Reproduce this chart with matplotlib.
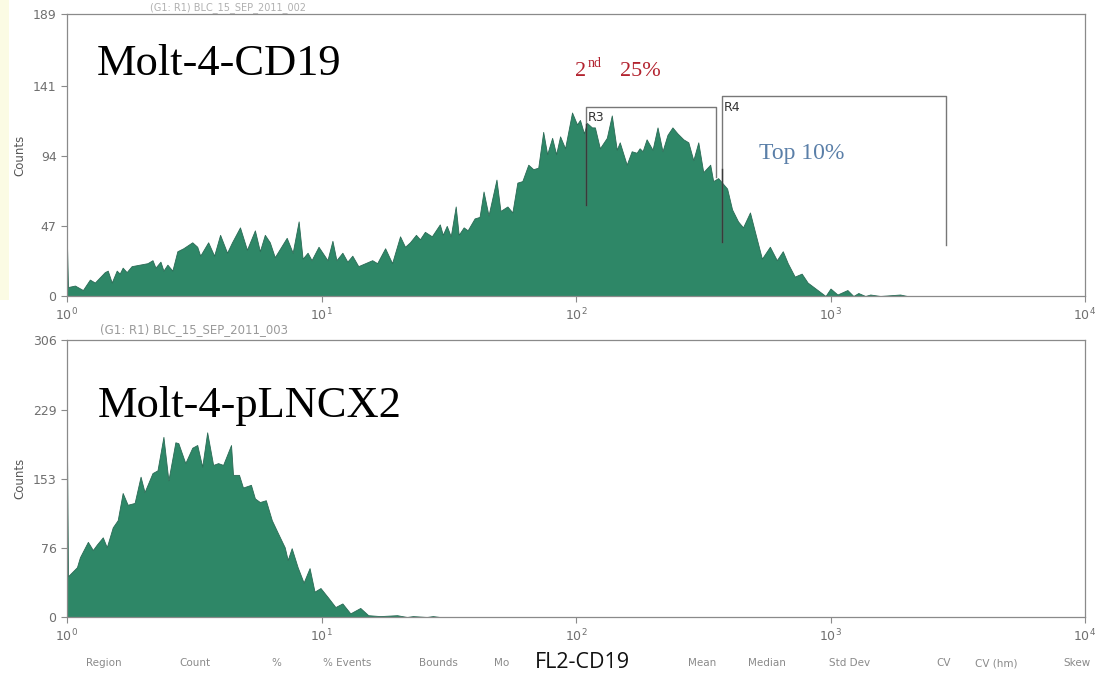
import numpy as np
import matplotlib
matplotlib.use('Agg')
import matplotlib.pyplot as plt
from matplotlib.patches import Rectangle

# FL2 channel (0-1023, 256 channels per decade) and counts
top_ch = [0, 1, 8, 16, 23, 28, 38, 41, 45, 50, 53, 56, 60, 65, 73, 81, 86, 89, 94, 97,
          101, 106, 111, 117, 126, 131, 134, 142, 148, 154, 161, 166, 174, 181, 189, 194,
          199, 204, 209, 221, 227, 233, 237, 242, 246, 253, 262, 267, 271, 277, 282, 287,
          293, 300, 307, 312, 320, 327, 335, 340, 345, 351, 355, 360, 367, 375, 378, 382,
          386, 391, 394, 399, 403, 410, 415, 419, 424, 432, 436, 443, 448, 453, 458, 464,
          469, 474, 479, 483, 488, 492, 496, 501, 508, 513, 516, 520, 523, 528, 531, 536,
          543, 548, 553, 556, 563, 568, 573, 576, 579, 583, 589, 594, 599, 604, 609, 614,
          620, 625, 630, 635, 640, 647, 650, 655, 664, 669, 675, 680, 687, 692, 699, 707,
          714, 720, 725, 732, 739, 745, 755, 763, 768, 775, 785, 791, 796, 803, 808, 818,
          838, 845, 1023]
top_counts = [34, 6, 7, 4, 11, 9, 16, 17, 9, 17, 15, 19, 16, 20, 21, 22, 24, 19, 23, 17,
              21, 17, 30, 32, 36, 33, 27, 36, 27, 41, 29, 36, 46, 31, 44, 30,
              41, 36, 26, 39, 29, 50, 25, 29, 24, 33, 24, 37, 24, 29, 23, 27,
              20, 22, 24, 22, 32, 22, 40, 33, 36, 41, 38, 43, 40, 48, 41, 47,
              40, 60, 41, 46, 44, 52, 53, 70, 54, 78, 57, 60, 56, 76, 77, 88,
              85, 86, 110, 95, 106, 95, 107, 99, 123, 115, 118, 109, 116, 113, 113, 99,
              106, 121, 98, 103, 88, 97, 96, 99, 97, 105, 98, 113, 97, 108, 113, 109,
              105, 103, 91, 103, 83, 88, 77, 79, 72, 58, 50, 46, 56, 43, 25, 33,
              24, 30, 22, 13, 15, 9, 4, 0, 5, 1, 4, 0, 2, 0, 1, 0,
              1, 0, 0]

bot_ch = [0, 1, 10, 13, 21, 26, 30, 36, 40, 46, 51, 56, 61, 68, 74, 78, 86, 91, 97, 102,
          109, 112, 119, 126, 131, 136, 141, 147, 152, 157, 165, 167, 173, 177, 185, 189,
          194, 200, 206, 212, 219, 222, 226, 232, 238, 244, 249, 255, 263, 270, 277, 285,
          295, 303, 315, 332, 342, 348, 362, 368, 375, 1023]
bot_counts = [185, 45, 55, 66, 83, 74, 80, 88, 77, 99, 107, 137, 124, 126, 155, 138, 159, 162, 199, 151,
              193, 192, 170, 187, 190, 166, 204, 168, 170, 168, 190, 157, 157, 143, 146, 131,
              127, 129, 107, 93, 77, 63, 76, 55, 38, 54, 28, 32, 21, 11, 15, 4,
              10, 2, 1, 2, 0, 1, 0, 1, 0, 0]

top_yticks = [0, 47, 94, 141, 189]
bot_yticks = [0, 76, 153, 229, 306]
xticks = [1, 10, 100, 1000, 10000]
xticklabels = ['$10^{0}$', '$10^{1}$', '$10^{2}$', '$10^{3}$', '$10^{4}$']

# gates (channels, counts)
r3_ch = [522, 653]
r3_top, r3_low_left, r3_low_right = 127, 61, 80
r4_ch = [659, 884]
r4_top, r4_low_left, r4_low_right = 134, 36, 34

footer = [('Region', 104), ('Count', 195), ('%', 276), ('% Events', 347), ('Bounds', 438),
          ('Mean', 702), ('Median', 767), ('Std Dev', 850), ('CV', 944), ('CV (hm)', 996),
          ('Skew', 1077)]

FILL = '#2e8767'
EDGE = '#2a6a55'
GREY = '#6f6f6f'
SPINE = '#8a8a8a'

W, H = 1106, 684


def ch2val(ch):
    return 10 ** (np.asarray(ch, dtype=float) / 256.0)


def fx(px):
    return px / W


def fy(py):
    return 1 - py / H


fig = plt.figure(figsize=(W / 100, H / 100), dpi=100)
fig.patch.set_facecolor('white')
# faint yellow scan edge
fig.patches.append(Rectangle((0, fy(300)), fx(9), fy(0) - fy(300), transform=fig.transFigure,
                             facecolor='#fbfbe4', edgecolor='none', zorder=-1))

ax1 = fig.add_axes([fx(67), fy(296), fx(1085) - fx(67), fy(14) - fy(296)])
ax2 = fig.add_axes([fx(67), fy(617), fx(1085) - fx(67), fy(340) - fy(617)])

for ax, ch, cnt, yt in [(ax1, top_ch, top_counts, top_yticks),
                        (ax2, bot_ch, bot_counts, bot_yticks)]:
    x = ch2val(ch)
    ax.fill_between(x, cnt, 0, facecolor=FILL, edgecolor=EDGE, linewidth=0.6, zorder=2)
    ax.set_xscale('log')
    ax.set_xlim(1, 10000)
    ax.set_ylim(0, yt[-1])
    ax.set_yticks(yt)
    ax.set_yticklabels([str(v) for v in yt])
    ax.set_xticks(xticks)
    ax.set_xticklabels(xticklabels)
    ax.minorticks_off()
    ax.tick_params(axis='both', colors=SPINE, labelcolor=GREY, labelsize=9, length=4, width=0.8)
    for s in ax.spines.values():
        s.set_color(SPINE)
        s.set_linewidth(0.9)
    ax.set_ylabel('Counts', color='#555555', fontsize=8.5, labelpad=5)

# gates on the top histogram
gk = dict(color='#777777', linewidth=1.0, zorder=3)
ax1.plot(ch2val([r3_ch[0], r3_ch[0], r3_ch[1], r3_ch[1]]),
         [r3_low_left, r3_top, r3_top, r3_low_right], **gk)
ax1.plot(ch2val([r4_ch[0], r4_ch[0], r4_ch[1], r4_ch[1]]),
         [r4_low_left, r4_top, r4_top, r4_low_right], **gk)
ax1.plot(ch2val([r3_ch[0], r3_ch[0]]), [r3_low_left, 115], color='#3a3a3a', linewidth=1.0, zorder=3)
ax1.plot(ch2val([r4_ch[0], r4_ch[0]]), [r4_low_left, 85], color='#3a3a3a', linewidth=1.0, zorder=3)
ax1.text(ch2val(r3_ch[0] + 2), r3_top - 3, 'R3', fontsize=9, color='#333333', va='top', zorder=4)
ax1.text(ch2val(r4_ch[0] + 2), r4_top - 3, 'R4', fontsize=9, color='#333333', va='top', zorder=4)

serif = ['Liberation Serif', 'DejaVu Serif']
fig.text(fx(97), fy(75), 'Molt-4-CD19', fontsize=32, family=serif, color='black', va='baseline')
fig.text(fx(98), fy(417), 'Molt-4-pLNCX2', fontsize=32, family=serif, color='black', va='baseline')

red = '#b3232f'
fig.text(fx(575), fy(76), '2', fontsize=16, family=serif, color=red, va='baseline')
fig.text(fx(588), fy(67), 'nd', fontsize=10, family=serif, color=red, va='baseline')
fig.text(fx(620), fy(76), '25%', fontsize=16, family=serif, color=red, va='baseline')
fig.text(fx(759), fy(159), 'Top 10%', fontsize=17, family=serif, color='#5a7fa8', va='baseline')

# faint scan headers
fig.text(fx(100), fy(333), '(G1: R1) BLC_15_SEP_2011_003', fontsize=8.5, color='#9a9a9a',
         va='baseline')
fig.text(fx(150), fy(10), '(G1: R1) BLC_15_SEP_2011_002', fontsize=7, color='#b0b0b0',
         va='baseline')

for name, cx in footer:
    fig.text(fx(cx), fy(663), name, fontsize=7.5, color='#8a8a8a', ha='center', va='center')
fig.text(fx(494), fy(663), 'Mo', fontsize=7.5, color='#8a8a8a', ha='left', va='center')
fig.text(fx(582), fy(663), 'FL2-CD19', fontsize=15.5, family=['Open Sans', 'DejaVu Sans'],
         color='#111111', ha='center', va='center')

fig.savefig('out.png', dpi=100)
